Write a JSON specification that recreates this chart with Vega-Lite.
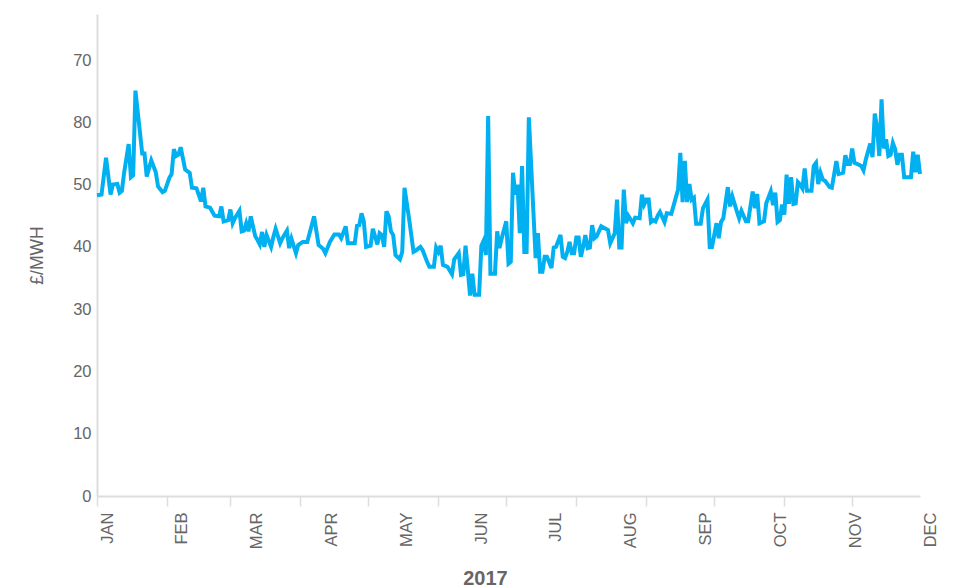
{
  "$schema": "https://vega.github.io/schema/vega-lite/v6.json",
  "autosize": {"type": "none"},
  "padding": {"left": 97, "top": 14, "right": 33, "bottom": 92},
  "width": 823,
  "height": 482,
  "config": {
    "view": {"stroke": null},
    "font": "Liberation Sans",
    "axis": {"labelFont": "Liberation Sans", "titleFont": "Liberation Sans", "grid": false}
  },
  "datasets": {
    "prices": [
      {"date": "2017-01-01", "price": 48.3}, {"date": "2017-01-03", "price": 48.4}, {"date": "2017-01-05", "price": 54.3}, {"date": "2017-01-07", "price": 48.4}, {"date": "2017-01-08", "price": 50.0}, {"date": "2017-01-10", "price": 50.1}, {"date": "2017-01-11", "price": 48.7}, {"date": "2017-01-12", "price": 49.0}, {"date": "2017-01-13", "price": 51.9}, {"date": "2017-01-15", "price": 56.5}, {"date": "2017-01-16", "price": 51.2}, {"date": "2017-01-17", "price": 51.5}, {"date": "2017-01-18", "price": 65.1}, {"date": "2017-01-21", "price": 55.0}, {"date": "2017-01-22", "price": 55.0}, {"date": "2017-01-23", "price": 51.3}, {"date": "2017-01-25", "price": 53.9}, {"date": "2017-01-27", "price": 52.0}, {"date": "2017-01-28", "price": 49.7}, {"date": "2017-01-30", "price": 48.8}, {"date": "2017-01-31", "price": 49.0},
      {"date": "2017-02-02", "price": 51.1}, {"date": "2017-02-03", "price": 51.7}, {"date": "2017-02-04", "price": 55.7}, {"date": "2017-02-05", "price": 54.6}, {"date": "2017-02-06", "price": 54.8}, {"date": "2017-02-07", "price": 56.0}, {"date": "2017-02-09", "price": 52.4}, {"date": "2017-02-11", "price": 51.9}, {"date": "2017-02-12", "price": 49.5}, {"date": "2017-02-14", "price": 49.4}, {"date": "2017-02-16", "price": 47.3}, {"date": "2017-02-17", "price": 49.5}, {"date": "2017-02-18", "price": 46.5}, {"date": "2017-02-20", "price": 46.3}, {"date": "2017-02-22", "price": 45.0}, {"date": "2017-02-24", "price": 44.9}, {"date": "2017-02-25", "price": 46.5}, {"date": "2017-02-26", "price": 44.1}, {"date": "2017-02-28", "price": 44.3},
      {"date": "2017-03-01", "price": 46.0}, {"date": "2017-03-02", "price": 43.8}, {"date": "2017-03-03", "price": 44.6}, {"date": "2017-03-05", "price": 45.8}, {"date": "2017-03-06", "price": 42.5}, {"date": "2017-03-07", "price": 42.6}, {"date": "2017-03-08", "price": 43.8}, {"date": "2017-03-09", "price": 42.5}, {"date": "2017-03-10", "price": 44.9}, {"date": "2017-03-11", "price": 43.3}, {"date": "2017-03-12", "price": 41.7}, {"date": "2017-03-13", "price": 41.1}, {"date": "2017-03-14", "price": 40.4}, {"date": "2017-03-15", "price": 42.4}, {"date": "2017-03-16", "price": 40.0}, {"date": "2017-03-17", "price": 41.9}, {"date": "2017-03-19", "price": 40.0}, {"date": "2017-03-20", "price": 41.6}, {"date": "2017-03-21", "price": 42.9}, {"date": "2017-03-23", "price": 40.6}, {"date": "2017-03-24", "price": 41.4}, {"date": "2017-03-26", "price": 42.6}, {"date": "2017-03-27", "price": 39.8}, {"date": "2017-03-28", "price": 41.3}, {"date": "2017-03-30", "price": 39.0}, {"date": "2017-03-31", "price": 40.3},
      {"date": "2017-04-02", "price": 40.8}, {"date": "2017-04-04", "price": 40.8}, {"date": "2017-04-07", "price": 44.9}, {"date": "2017-04-09", "price": 40.3}, {"date": "2017-04-11", "price": 39.7}, {"date": "2017-04-12", "price": 39.0}, {"date": "2017-04-14", "price": 40.8}, {"date": "2017-04-16", "price": 42.0}, {"date": "2017-04-18", "price": 42.0}, {"date": "2017-04-19", "price": 41.4}, {"date": "2017-04-21", "price": 43.3}, {"date": "2017-04-22", "price": 40.6}, {"date": "2017-04-25", "price": 40.6}, {"date": "2017-04-26", "price": 43.4}, {"date": "2017-04-27", "price": 43.5}, {"date": "2017-04-28", "price": 45.4}, {"date": "2017-04-29", "price": 44.1}, {"date": "2017-04-30", "price": 40.0},
      {"date": "2017-05-02", "price": 40.2}, {"date": "2017-05-03", "price": 42.9}, {"date": "2017-05-05", "price": 40.4}, {"date": "2017-05-06", "price": 42.2}, {"date": "2017-05-07", "price": 41.9}, {"date": "2017-05-08", "price": 40.0}, {"date": "2017-05-09", "price": 45.7}, {"date": "2017-05-10", "price": 44.9}, {"date": "2017-05-11", "price": 42.5}, {"date": "2017-05-12", "price": 41.9}, {"date": "2017-05-13", "price": 38.7}, {"date": "2017-05-15", "price": 38.0}, {"date": "2017-05-16", "price": 39.2}, {"date": "2017-05-17", "price": 49.5}, {"date": "2017-05-19", "price": 44.6}, {"date": "2017-05-21", "price": 39.2}, {"date": "2017-05-22", "price": 39.4}, {"date": "2017-05-24", "price": 40.0}, {"date": "2017-05-25", "price": 39.5}, {"date": "2017-05-27", "price": 37.6}, {"date": "2017-05-28", "price": 36.8}, {"date": "2017-05-30", "price": 36.8}, {"date": "2017-05-31", "price": 39.9},
      {"date": "2017-06-01", "price": 39.2}, {"date": "2017-06-02", "price": 40.2}, {"date": "2017-06-03", "price": 37.1}, {"date": "2017-06-05", "price": 36.8}, {"date": "2017-06-07", "price": 35.6}, {"date": "2017-06-08", "price": 38.0}, {"date": "2017-06-10", "price": 39.0}, {"date": "2017-06-11", "price": 35.5}, {"date": "2017-06-12", "price": 35.6}, {"date": "2017-06-13", "price": 40.2}, {"date": "2017-06-14", "price": 36.3}, {"date": "2017-06-15", "price": 32.2}, {"date": "2017-06-16", "price": 35.7}, {"date": "2017-06-17", "price": 32.3}, {"date": "2017-06-19", "price": 32.3}, {"date": "2017-06-20", "price": 40.2}, {"date": "2017-06-21", "price": 41.0}, {"date": "2017-06-22", "price": 38.7}, {"date": "2017-06-23", "price": 61.0}, {"date": "2017-06-24", "price": 35.7}, {"date": "2017-06-26", "price": 35.7}, {"date": "2017-06-27", "price": 42.5}, {"date": "2017-06-28", "price": 39.8}, {"date": "2017-06-29", "price": 41.4},
      {"date": "2017-07-01", "price": 44.1}, {"date": "2017-07-02", "price": 37.3}, {"date": "2017-07-03", "price": 37.6}, {"date": "2017-07-04", "price": 51.9}, {"date": "2017-07-05", "price": 48.4}, {"date": "2017-07-06", "price": 50.0}, {"date": "2017-07-07", "price": 42.2}, {"date": "2017-07-08", "price": 53.0}, {"date": "2017-07-09", "price": 39.2}, {"date": "2017-07-10", "price": 39.2}, {"date": "2017-07-11", "price": 60.8}, {"date": "2017-07-13", "price": 45.7}, {"date": "2017-07-14", "price": 38.2}, {"date": "2017-07-15", "price": 42.2}, {"date": "2017-07-16", "price": 36.0}, {"date": "2017-07-17", "price": 36.0}, {"date": "2017-07-18", "price": 38.4}, {"date": "2017-07-19", "price": 38.4}, {"date": "2017-07-21", "price": 36.6}, {"date": "2017-07-22", "price": 39.9}, {"date": "2017-07-23", "price": 40.0}, {"date": "2017-07-25", "price": 41.9}, {"date": "2017-07-26", "price": 38.4}, {"date": "2017-07-27", "price": 38.2}, {"date": "2017-07-28", "price": 39.2}, {"date": "2017-07-29", "price": 40.8}, {"date": "2017-07-30", "price": 39.0}, {"date": "2017-07-31", "price": 39.0},
      {"date": "2017-08-01", "price": 41.5}, {"date": "2017-08-02", "price": 41.5}, {"date": "2017-08-03", "price": 38.4}, {"date": "2017-08-04", "price": 40.0}, {"date": "2017-08-05", "price": 41.9}, {"date": "2017-08-06", "price": 39.8}, {"date": "2017-08-07", "price": 39.9}, {"date": "2017-08-08", "price": 43.5}, {"date": "2017-08-09", "price": 41.4}, {"date": "2017-08-10", "price": 41.7}, {"date": "2017-08-12", "price": 43.3}, {"date": "2017-08-15", "price": 42.7}, {"date": "2017-08-16", "price": 40.6}, {"date": "2017-08-18", "price": 42.2}, {"date": "2017-08-19", "price": 47.6}, {"date": "2017-08-20", "price": 39.9}, {"date": "2017-08-21", "price": 39.9}, {"date": "2017-08-22", "price": 49.2}, {"date": "2017-08-23", "price": 43.8}, {"date": "2017-08-24", "price": 45.0}, {"date": "2017-08-26", "price": 43.8}, {"date": "2017-08-27", "price": 44.7}, {"date": "2017-08-29", "price": 44.6}, {"date": "2017-08-30", "price": 48.4}, {"date": "2017-08-31", "price": 46.8},
      {"date": "2017-09-01", "price": 47.6}, {"date": "2017-09-02", "price": 47.6}, {"date": "2017-09-03", "price": 44.0}, {"date": "2017-09-04", "price": 44.3}, {"date": "2017-09-05", "price": 44.1}, {"date": "2017-09-06", "price": 45.0}, {"date": "2017-09-07", "price": 45.6}, {"date": "2017-09-09", "price": 44.0}, {"date": "2017-09-10", "price": 45.4}, {"date": "2017-09-12", "price": 45.3}, {"date": "2017-09-15", "price": 49.2}, {"date": "2017-09-16", "price": 55.1}, {"date": "2017-09-17", "price": 47.2}, {"date": "2017-09-18", "price": 53.8}, {"date": "2017-09-19", "price": 47.2}, {"date": "2017-09-20", "price": 50.1}, {"date": "2017-09-21", "price": 47.6}, {"date": "2017-09-22", "price": 47.9}, {"date": "2017-09-23", "price": 43.7}, {"date": "2017-09-25", "price": 43.7}, {"date": "2017-09-26", "price": 46.2}, {"date": "2017-09-28", "price": 47.6}, {"date": "2017-09-29", "price": 40.0}, {"date": "2017-09-30", "price": 40.0},
      {"date": "2017-10-02", "price": 43.8}, {"date": "2017-10-03", "price": 41.4}, {"date": "2017-10-04", "price": 44.0}, {"date": "2017-10-05", "price": 44.6}, {"date": "2017-10-07", "price": 49.6}, {"date": "2017-10-08", "price": 46.5}, {"date": "2017-10-09", "price": 48.1}, {"date": "2017-10-11", "price": 45.7}, {"date": "2017-10-12", "price": 44.6}, {"date": "2017-10-13", "price": 45.8}, {"date": "2017-10-15", "price": 44.1}, {"date": "2017-10-16", "price": 44.1}, {"date": "2017-10-18", "price": 48.9}, {"date": "2017-10-19", "price": 46.2}, {"date": "2017-10-20", "price": 48.5}, {"date": "2017-10-21", "price": 43.8}, {"date": "2017-10-23", "price": 44.1}, {"date": "2017-10-24", "price": 47.0}, {"date": "2017-10-26", "price": 48.9}, {"date": "2017-10-27", "price": 46.7}, {"date": "2017-10-28", "price": 48.7}, {"date": "2017-10-29", "price": 44.0}, {"date": "2017-10-30", "price": 44.3}, {"date": "2017-10-31", "price": 46.8},
      {"date": "2017-11-01", "price": 45.2}, {"date": "2017-11-02", "price": 51.6}, {"date": "2017-11-03", "price": 46.9}, {"date": "2017-11-04", "price": 51.2}, {"date": "2017-11-05", "price": 46.9}, {"date": "2017-11-06", "price": 47.0}, {"date": "2017-11-07", "price": 50.4}, {"date": "2017-11-08", "price": 50.0}, {"date": "2017-11-09", "price": 49.4}, {"date": "2017-11-10", "price": 52.6}, {"date": "2017-11-11", "price": 49.0}, {"date": "2017-11-13", "price": 49.0}, {"date": "2017-11-14", "price": 53.0}, {"date": "2017-11-15", "price": 53.5}, {"date": "2017-11-16", "price": 50.1}, {"date": "2017-11-17", "price": 51.9}, {"date": "2017-11-18", "price": 50.8}, {"date": "2017-11-19", "price": 50.6}, {"date": "2017-11-21", "price": 49.6}, {"date": "2017-11-22", "price": 49.5}, {"date": "2017-11-23", "price": 51.6}, {"date": "2017-11-24", "price": 53.8}, {"date": "2017-11-25", "price": 51.7}, {"date": "2017-11-27", "price": 51.9}, {"date": "2017-11-28", "price": 54.7}, {"date": "2017-11-29", "price": 53.3}, {"date": "2017-11-30", "price": 53.3},
      {"date": "2017-12-01", "price": 55.8}, {"date": "2017-12-02", "price": 53.5}, {"date": "2017-12-04", "price": 53.2}, {"date": "2017-12-05", "price": 53.0}, {"date": "2017-12-06", "price": 52.3}, {"date": "2017-12-07", "price": 54.0}, {"date": "2017-12-09", "price": 56.6}, {"date": "2017-12-10", "price": 54.4}, {"date": "2017-12-11", "price": 61.4}, {"date": "2017-12-12", "price": 59.2}, {"date": "2017-12-13", "price": 54.6}, {"date": "2017-12-14", "price": 63.7}, {"date": "2017-12-15", "price": 55.8}, {"date": "2017-12-16", "price": 57.3}, {"date": "2017-12-17", "price": 54.6}, {"date": "2017-12-18", "price": 54.8}, {"date": "2017-12-19", "price": 56.7}, {"date": "2017-12-20", "price": 55.7}, {"date": "2017-12-21", "price": 53.2}, {"date": "2017-12-22", "price": 54.8}, {"date": "2017-12-23", "price": 54.8}, {"date": "2017-12-24", "price": 51.2}, {"date": "2017-12-25", "price": 51.2}, {"date": "2017-12-27", "price": 51.2}, {"date": "2017-12-28", "price": 55.3}, {"date": "2017-12-29", "price": 52.0}, {"date": "2017-12-30", "price": 54.8}, {"date": "2017-12-31", "price": 51.7}
    ],
    "months": [
      {"month": "JAN"}, {"month": "FEB"}, {"month": "MAR"}, {"month": "APR"}, {"month": "MAY"}, {"month": "JUN"},
      {"month": "JUL"}, {"month": "AUG"}, {"month": "SEP"}, {"month": "OCT"}, {"month": "NOV"}, {"month": "DEC"}
    ]
  },
  "layer": [
    {
      "data": {"name": "prices"},
      "mark": {"type": "line", "color": "#00b0f0", "strokeWidth": 4},
      "encoding": {
        "x": {
          "field": "date",
          "type": "temporal",
          "scale": {
            "domain": ["2017-01-01", "2017-12-31"]
          },
          "axis": {
            "orient": "bottom",
            "labels": false,
            "tickCount": {"interval": "month", "step": 1},
            "ticks": true,
            "tickSize": 10,
            "tickColor": "#dddddd",
            "tickWidth": 1.5,
            "domainColor": "#dddddd",
            "domainWidth": 2,
            "title": "2017",
            "titleFontSize": 20,
            "titleFontWeight": "bold",
            "titleColor": "#666666",
            "titleX": 388,
            "titleY": 88,
            "titleAlign": "center",
            "titleBaseline": "alphabetic"
          }
        },
        "y": {
          "field": "price",
          "type": "quantitative",
          "scale": {"domain": [0, 77.4], "nice": false, "zero": true},
          "axis": {
            "values": [0, 10, 20, 30, 40, 50, 60, 70],
            "labelExpr": "datum.value == 60 ? '80' : datum.label",
            "ticks": false,
            "tickSize": 0,
            "labelPadding": 6,
            "labelFontSize": 16.5,
            "labelColor": "#666666",
            "domainColor": "#dddddd",
            "domainWidth": 2,
            "title": "£/MWH",
            "titleFontSize": 17.5,
            "titleFontWeight": "normal",
            "titleColor": "#666666",
            "titleAngle": -90,
            "titleX": -60,
            "titleY": 241,
            "titleAlign": "center",
            "titleBaseline": "middle"
          }
        }
      }
    },
    {
      "data": {"name": "months"},
      "mark": {"type": "point", "opacity": 0},
      "encoding": {
        "x": {
          "field": "month",
          "type": "ordinal",
          "sort": null,
          "scale": {"type": "point", "padding": 0},
          "axis": {
            "orient": "bottom",
            "domain": false,
            "ticks": false,
            "tickSize": 0,
            "labelAngle": -90,
            "labelPadding": 16,
            "labelOffset": 10,
            "labelFontSize": 16.5,
            "labelColor": "#666666",
            "title": null
          }
        }
      }
    }
  ],
  "resolve": {"scale": {"x": "independent"}, "axis": {"x": "independent"}}
}
